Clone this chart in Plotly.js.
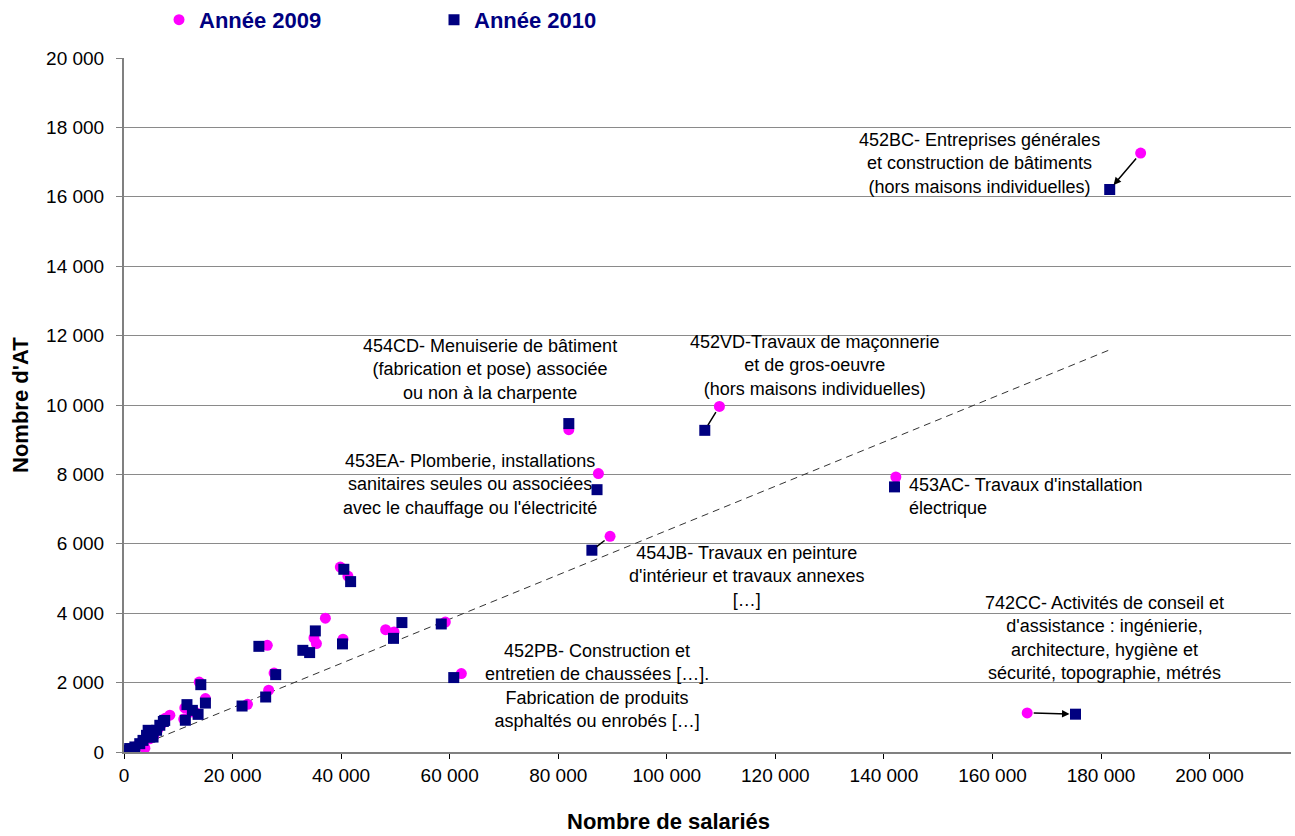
<!DOCTYPE html>
<html>
<head>
<meta charset="utf-8">
<script src="https://cdn.plot.ly/plotly-3.0.1.min.js"></script>
<style>html,body{margin:0;padding:0;background:#fff;}#chart{width:1295px;height:836px;}</style>
</head>
<body>
<div id="chart"></div>
<script>
// 2009 series (salariés, AT)
const x2009 = [187300,166400,142200,109700,81950,87400,89550,62150,39850,41250,37100,35000,35450,40350,48200,49750,59200,26400,27650,26650,22750,13850,15000,11200,12300,13300,11000,8450,7600,6800,6200,5500,4600,4300,3850,3000,2100,1200,500,200,4700];
const y2009 = [17260,1125,7925,9960,9290,8025,6215,2260,5330,5070,3855,3285,3125,3250,3525,3460,3745,3075,2275,1780,1375,2015,1540,1270,1150,1130,950,1060,970,780,650,470,620,500,110,250,150,100,50,40,380];
// 2010 series
const x2010 = [181600,175300,141950,107000,81950,87150,86200,60750,40500,41750,35250,34200,32950,40250,51200,49650,58450,24850,27950,26100,21750,14150,15000,11600,12600,13650,11300,7500,7250,6600,6000,5350,4450,4150,3500,2900,2000,1050,450,150,4750];
const y2010 = [16210,1090,7640,9270,9465,7560,5815,2145,5265,4910,3490,2865,2930,3115,3730,3275,3690,3045,2230,1585,1325,1940,1410,1365,1200,1085,915,910,880,770,625,430,625,480,335,240,145,100,50,45,430];
// Trend line endpoints
const trendX = [0, 181600];
const trendY = [0, 11590];
// Sector labels
const labelTexts = [
  "454CD- Menuiserie de bâtiment<br>(fabrication et pose) associée<br>ou non à la charpente",
  "452VD-Travaux de maçonnerie<br>et de gros-oeuvre<br>(hors maisons individuelles)",
  "452BC- Entreprises générales<br>et construction de bâtiments<br>(hors maisons individuelles)",
  "453EA- Plomberie, installations<br>sanitaires seules ou associées<br>avec le chauffage ou l'électricité",
  "453AC- Travaux d'installation<br>électrique",
  "454JB- Travaux en peinture<br>d'intérieur et travaux annexes<br>[…]",
  "742CC- Activités de conseil et<br>d'assistance : ingénierie,<br>architecture, hygiène et<br>sécurité, topographie, métrés",
  "452PB- Construction et<br>entretien de chaussées […].<br>Fabrication de produits<br>asphaltés ou enrobés […]"
];
const labelX = [67350, 127200, 157700, 63660, 144300, 114840, 180570, 87230];
const labelY = [11030, 11145, 16960, 7715, 7370, 5060, 3277, 1893];
const labelAlign = ["center","center","center","center","left","center","center","center"];
// Arrows from 2009 point to 2010 point
const arrowIdx = [0, 1, 3, 6];
const arrowHead = [2, 2, 0, 0];

const FONT = "Arial, 'Liberation Sans', sans-serif";

const traces = [
  {x: trendX, y: trendY, mode: 'lines', line: {color: '#333333', width: 1, dash: '7px,5px'}, showlegend: false, hoverinfo: 'skip'},
  {x: x2009, y: y2009, mode: 'markers', name: 'Année 2009', marker: {symbol: 'circle', size: 11, color: '#FF00FF'}},
  {x: x2010, y: y2010, mode: 'markers', name: 'Année 2010', marker: {symbol: 'square', size: 11, color: '#000080'}}
];

const annotations = [];
labelTexts.forEach((t, i) => {
  annotations.push({
    x: labelX[i], y: labelY[i], xref: 'x', yref: 'y', text: t, showarrow: false,
    xanchor: labelAlign[i] === 'left' ? 'left' : 'center', yanchor: 'middle', align: labelAlign[i],
    font: {family: FONT, size: 18, color: '#000000'}
  });
});
arrowIdx.forEach((k, j) => {
  annotations.push({
    x: x2010[k], y: y2010[k], xref: 'x', yref: 'y', axref: 'x', ayref: 'y',
    ax: x2009[k], ay: y2009[k], text: '', showarrow: true,
    arrowhead: arrowHead[j], arrowsize: 1, arrowwidth: 1.5, arrowcolor: '#000000',
    standoff: 6, startstandoff: 5
  });
});
annotations.push({
  x: (668 - 124) / 1167, y: -0.1, xref: 'paper', yref: 'paper', yanchor: 'middle', xanchor: 'center',
  text: '<b>Nombre de salariés</b>', showarrow: false, font: {family: FONT, size: 22, color: '#000000'}
});
annotations.push({
  x: (20 - 124) / 1167, y: 0.5, xref: 'paper', yref: 'paper', yanchor: 'middle', xanchor: 'center',
  textangle: -90, text: "<b>Nombre d'AT</b>", showarrow: false, font: {family: FONT, size: 22, color: '#000000'}
});

const layout = {
  width: 1295, height: 836,
  margin: {l: 124, r: 4, t: 58, b: 84, pad: 0, autoexpand: false},
  paper_bgcolor: '#ffffff', plot_bgcolor: '#ffffff',
  separators: ', ',
  font: {family: FONT, size: 19, color: '#000000'},
  showlegend: true,
  legend: {
    orientation: 'h', x: 0.03, xanchor: 'left', y: 1.055, yanchor: 'middle',
    font: {family: FONT, size: 22, color: '#000080', weight: 'bold'},
    entrywidth: 230, itemclick: false, bgcolor: 'rgba(0,0,0,0)'
  },
  xaxis: {
    range: [0, 215000], tickvals: [0,20000,40000,60000,80000,100000,120000,140000,160000,180000,200000],
    tickformat: ',d', showgrid: false, zeroline: false,
    showline: true, linecolor: '#808080', linewidth: 2,
    ticks: 'outside', ticklen: 5, tickcolor: '#000000', tickwidth: 1,
    tickfont: {family: FONT, size: 19, color: '#000000'}
  },
  yaxis: {
    range: [0, 20000], dtick: 2000, tickformat: ',d',
    showgrid: true, gridcolor: '#8a8a8a', gridwidth: 1, zeroline: false,
    showline: true, linecolor: '#808080', linewidth: 2,
    ticks: 'outside', ticklen: 6, tickcolor: '#808080', tickwidth: 1,
    ticklabelstandoff: 8,
    tickfont: {family: FONT, size: 19, color: '#000000'}
  },
  annotations: annotations
};

Plotly.newPlot('chart', traces, layout, {displayModeBar: false, staticPlot: true});
</script>
</body>
</html>
